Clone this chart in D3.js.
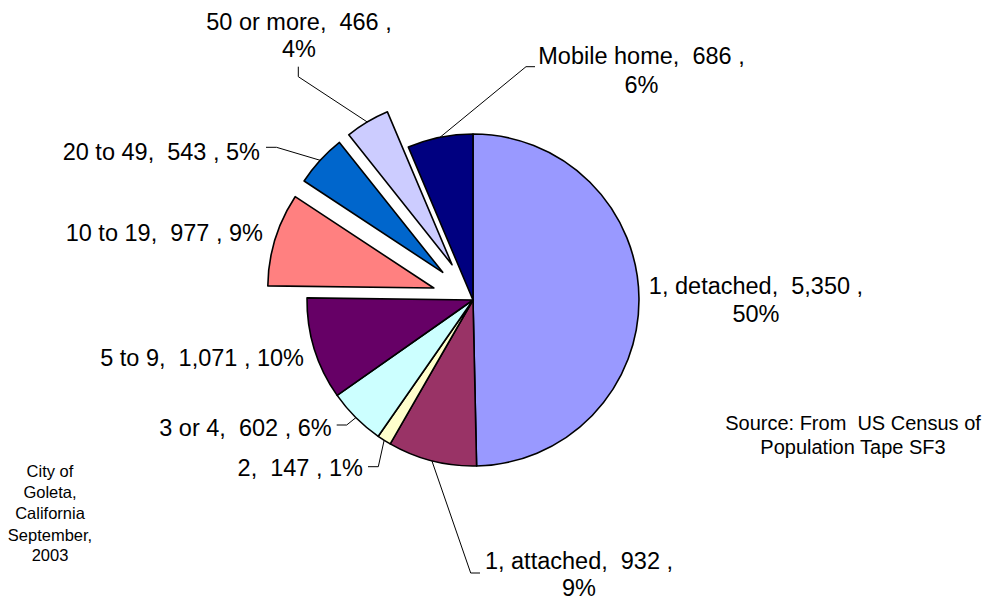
<!DOCTYPE html>
<html>
<head>
<meta charset="utf-8">
<script src="https://cdn.jsdelivr.net/npm/d3@7"></script>
<style>
  html, body { margin: 0; padding: 0; background: #fff; }
  svg { display: block; }
  text { font-family: "Liberation Sans", Arial, sans-serif; fill: #000; white-space: pre; }
</style>
</head>
<body>
<svg id="chart" width="990" height="601"></svg>
<script>
// ---- data ----
const categories = ["1, detached", "1, attached", "2", "3 or 4", "5 to 9", "10 to 19", "20 to 49", "50 or more", "Mobile home"];
const values     = [5350, 932, 147, 602, 1071, 977, 543, 466, 686];
const percents   = ["50%", "9%", "1%", "6%", "10%", "9%", "5%", "4%", "6%"];
const exploded   = [false, false, false, false, false, true, true, true, false];
const colors     = ["#9999FF", "#993366", "#FFFFCC", "#CCFFFF", "#660066", "#FF8080", "#0066CC", "#CCCCFF", "#000080"];
const sourceLines = ["Source: From  US Census of", "Population Tape SF3"];
const cityLines   = ["City of", "Goleta,", "California", "September,", "2003"];

// ---- layout (positions only) ----
const W = 990, H = 601;
const cx = 473, cy = 300, R = 166, explodeDist = 41;
const labelFont = 23.5;
const labelLayout = [
  {anchor: "middle", x: 756, ys: [286, 313.3], split: true, leader: null},
  {anchor: "middle", x: 579, ys: [561, 587.3], split: true, leader: [[480, 573], [470.7, 573]]},
  {anchor: "end", x: 363, ys: [468], split: false, leader: [[368, 466.7], [378.3, 466.7]]},
  {anchor: "end", x: 331.7, ys: [428], split: false, leader: [[336.7, 425], [346.7, 425]]},
  {anchor: "end", x: 304, ys: [358], split: false, leader: null},
  {anchor: "end", x: 263, ys: [233], split: false, leader: null},
  {anchor: "end", x: 260, ys: [151.7], split: false, leader: [[266, 147.3], [276.5, 147.3]]},
  {anchor: "middle", x: 299, ys: [21.7, 49], split: true, leader: [[298.3, 66.7], [298.3, 76.7]]},
  {anchor: "middle", x: 641.5, ys: [56, 85], split: true, leader: [[535, 66.7], [526, 66.7]]}
];

const fmt = d3.format(",");
const svg = d3.select("#chart");

const pie = d3.pie().sort(null).value(d => d.value);
const arcs = pie(categories.map((c, i) => ({cat: c, value: values[i], i})));
const arcGen = d3.arc().innerRadius(0).outerRadius(R);

function offsetOf(a) {
  if (!exploded[a.data.i]) return [0, 0];
  const mid = (a.startAngle + a.endAngle) / 2;
  return [Math.sin(mid) * explodeDist, -Math.cos(mid) * explodeDist];
}

const g = svg.append("g").attr("transform", `translate(${cx},${cy})`);
g.selectAll("path.slice")
  .data(arcs)
  .join("path")
  .attr("class", "slice")
  .attr("transform", a => { const o = offsetOf(a); return `translate(${o[0]},${o[1]})`; })
  .attr("d", arcGen)
  .attr("fill", a => colors[a.data.i])
  .attr("stroke", "#000")
  .attr("stroke-width", 1.6)
  .attr("stroke-linejoin", "round");

// leader lines
arcs.forEach(a => {
  const L = labelLayout[a.data.i];
  if (!L.leader) return;
  const o = offsetOf(a);
  const mid = (a.startAngle + a.endAngle) / 2;
  const end = [cx + o[0] + Math.sin(mid) * R, cy + o[1] - Math.cos(mid) * R];
  const pts = L.leader.concat([end]);
  svg.append("path")
    .attr("d", d3.line()(pts))
    .attr("fill", "none")
    .attr("stroke", "#000")
    .attr("stroke-width", 1);
});

// data labels
arcs.forEach(a => {
  const i = a.data.i;
  const L = labelLayout[i];
  const first = `${categories[i]},  ${fmt(values[i])} ,`;
  const lines = L.split ? [first, percents[i]] : [`${first} ${percents[i]}`];
  lines.forEach((t, k) => {
    svg.append("text")
      .attr("x", L.x)
      .attr("y", L.ys[k] + labelFont * 0.358)
      .attr("text-anchor", L.anchor)
      .attr("font-size", labelFont)
      .text(t);
  });
});

// source note
const srcYs = [422.7, 447.3];
sourceLines.forEach((t, k) => {
  svg.append("text").attr("x", 853).attr("y", srcYs[k] + 20 * 0.358)
    .attr("text-anchor", "middle").attr("font-size", 20).text(t);
});

// city note
const cityYs = [470.7, 492.3, 513.3, 535, 555];
cityLines.forEach((t, k) => {
  svg.append("text").attr("x", 50).attr("y", cityYs[k] + 16.5 * 0.358)
    .attr("text-anchor", "middle").attr("font-size", 16.5).text(t);
});
</script>
</body>
</html>
